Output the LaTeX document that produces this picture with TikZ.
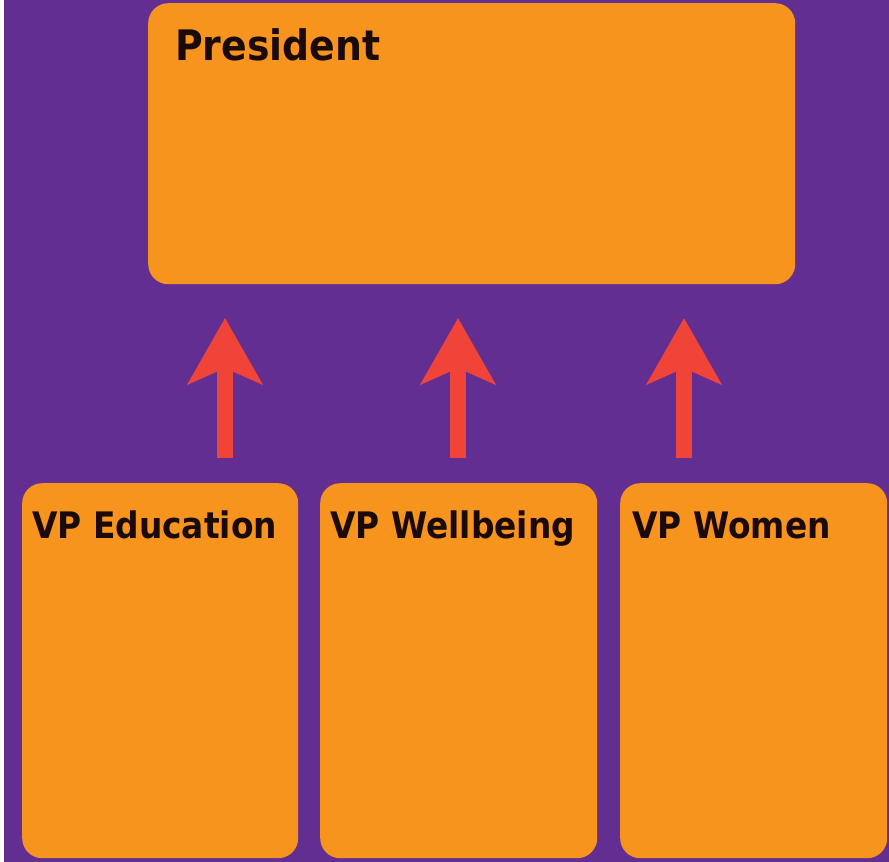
\documentclass[tikz,border=0pt]{standalone}
\usepackage{fontspec}
\setmainfont{DejaVu Sans}[FakeStretch=0.9]
\usetikzlibrary{arrows.meta}
\definecolor{bgpurple}{HTML}{632E91}
\definecolor{boxorange}{HTML}{F7941E}
\definecolor{arrowred}{HTML}{EF4437}
\definecolor{txtdark}{HTML}{1A0A0A}
\tikzset{
  box/.style={rectangle, fill=boxorange, draw=none, rounded corners=20pt, inner sep=0pt, anchor=north west},
  toplbl/.style={anchor=base west, inner sep=0pt, text=txtdark, font=\bfseries\fontsize{42}{48}\selectfont},
  vplbl/.style={anchor=base west, inner sep=0pt, text=txtdark, font=\bfseries\fontsize{36.5}{44}\selectfont},
  uparrow/.style={draw=arrowred, line width=16pt, line cap=butt, -{Stealth[length=66pt,width=74pt,inset=16pt]}}
}
\begin{document}
\begin{tikzpicture}[x=1pt,y=-1pt]
  \useasboundingbox (0,0) rectangle (889,862);
  \fill[bgpurple] (0,0) rectangle (889,862);
  \fill[white] (0,0) rectangle (4,862);
  % boxes
  \node[box, minimum width=647pt, minimum height=281pt] (pres) at (148,3) {};
  \node[box, minimum width=276pt, minimum height=375pt] (edu) at (22,483) {};
  \node[box, minimum width=277pt, minimum height=375pt] (well) at (320,483) {};
  \node[box, minimum width=267pt, minimum height=375pt] (women) at (620,483) {};
  % labels
  \node[toplbl] (presl) at ([shift={(27,57)}]pres.north west) {President};
  \node[vplbl] (edul) at ([shift={(10,55)}]edu.north west) {VP Education};
  \node[vplbl] (welll) at ([shift={(10,55)}]well.north west) {VP Wellbeing};
  \node[vplbl] (womenl) at ([shift={(12,55)}]women.north west) {VP Women};
  % arrows
  \coordinate (a1s) at (225,458); \coordinate (a1e) at (225,318);
  \coordinate (a2s) at (458,458); \coordinate (a2e) at (458,318);
  \coordinate (a3s) at (684,458); \coordinate (a3e) at (684,318);
  \draw[uparrow] (a1s) -- (a1e);
  \draw[uparrow] (a2s) -- (a2e);
  \draw[uparrow] (a3s) -- (a3e);
\end{tikzpicture}
\end{document}
